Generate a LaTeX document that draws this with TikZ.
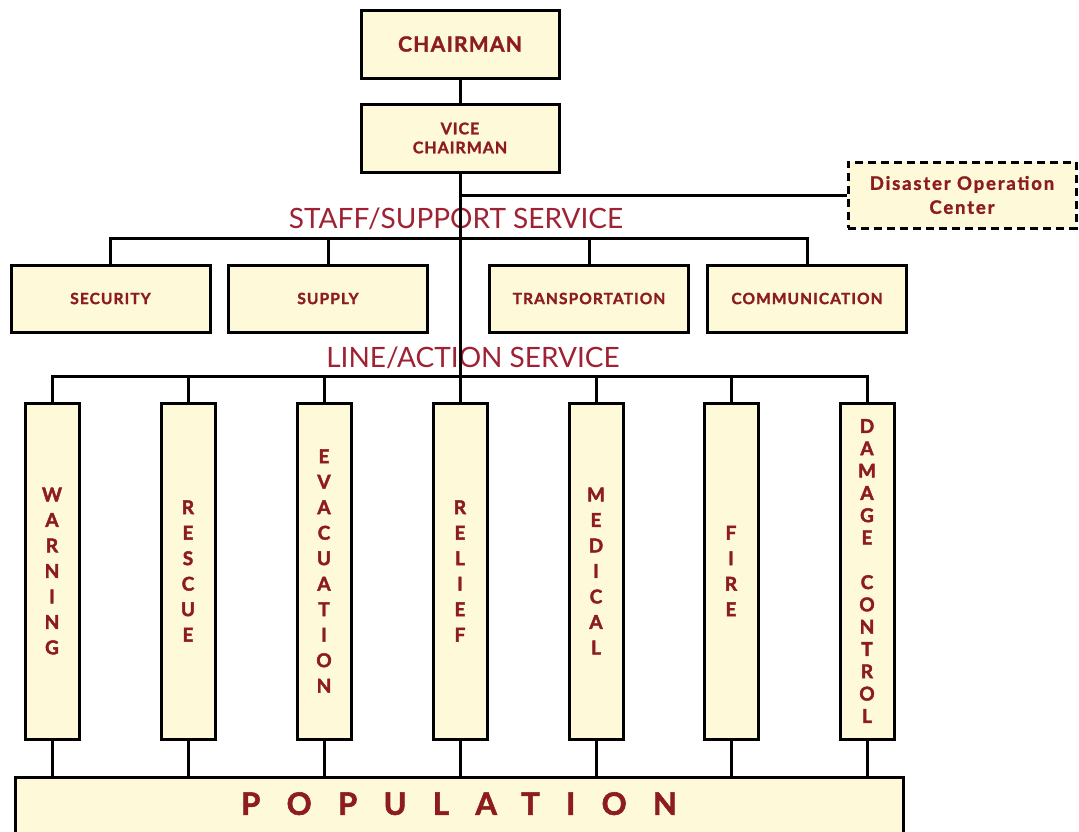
\documentclass[tikz,border=0pt]{standalone}
\usepackage{fontspec}
\setmainfont{Lato}
\newfontfamily\lblfont[LetterSpace=7, BoldFeatures={FakeBold=1.5}]{Lato}
\newfontfamily\chfont[LetterSpace=6, BoldFeatures={FakeBold=1.5}]{Lato}
\newfontfamily\docfont[LetterSpace=10, BoldFeatures={FakeBold=1.5}]{Lato}
\newfontfamily\barfont[BoldFeatures={FakeBold=2.2}]{Lato}
\newfontfamily\popfont[LetterSpace=85, BoldFeatures={FakeBold=1.8}]{Lato}
\definecolor{boxfill}{RGB}{253,249,217}
\definecolor{txtred}{RGB}{140,28,30}
\definecolor{headred}{RGB}{158,34,52}
\tikzset{
  box/.style={draw=black, line width=3pt, fill=boxfill, text=txtred, inner sep=0pt, align=center},
  topbox/.style={box, minimum width=198pt, minimum height=68pt},
  sbox/.style={box, minimum width=199pt, minimum height=67pt, font=\lblfont\bfseries\fontsize{15.5}{18}\selectfont},
  bar/.style={box, minimum width=54pt, minimum height=336pt, font=\barfont\bfseries\fontsize{19}{25.5}\selectfont},
  head/.style={text=headred, inner sep=0pt, font=\fontsize{28}{32}\selectfont},
  conn/.style={draw=black, line width=3pt}
}
\begin{document}
\begin{tikzpicture}[x=1pt,y=-1pt]
\clip (0,0) rectangle (1079,831);
\fill[white] (0,0) rectangle (1079,831);

\node[topbox, font=\chfont\bfseries\fontsize{21}{24}\selectfont] (ch) at (460,44) {CHAIRMAN};
\node[topbox, font=\chfont\bfseries\fontsize{16}{19}\selectfont] (vc) at (460,138) {VICE\\CHAIRMAN};
\node[box, dash pattern=on 8pt off 5pt, minimum width=228pt, minimum height=66pt,
      font=\docfont\bfseries\fontsize{18.5}{24}\selectfont] (doc) at (962,195) {Disaster Operation\\Center};

\node[head] (staff) at (456,219) {STAFF/SUPPORT SERVICE};
\node[head] (act) at (473,358) {LINE/ACTION SERVICE};

\node[sbox] (sec) at (110.5,298.5) {SECURITY};
\node[sbox] (sup) at (328,298.5) {SUPPLY};
\node[sbox] (tra) at (589,298.5) {TRANSPORTATION};
\node[sbox] (com) at (807,298.5) {COMMUNICATION};

\node[bar] (b1) at (52,571) {W\\A\\R\\N\\I\\N\\G};
\node[bar] (b2) at (188,571) {R\\E\\S\\C\\U\\E};
\node[bar] (b3) at (324,571) {E\\V\\A\\C\\U\\A\\T\\I\\O\\N};
\node[bar] (b4) at (460,571) {R\\E\\L\\I\\E\\F};
\node[bar] (b5) at (596,571) {M\\E\\D\\I\\C\\A\\L};
\node[bar] (b6) at (731,571) {F\\I\\R\\E};
\node[bar, font=\barfont\bfseries\fontsize{19}{22.3}\selectfont] (b7) at (867,571) {D\\A\\M\\A\\G\\E\\~\\C\\O\\N\\T\\R\\O\\L};

\node[box, minimum width=888pt, minimum height=63pt, text depth=10pt,
      font=\popfont\bfseries\fontsize{31}{34}\selectfont] (pop) at (459,808.5) {POPULATION};

\coordinate (sy) at (0,238);
\coordinate (ly) at (0,376);

\draw[conn] (ch) -- (vc);
\draw[conn] (vc.south) -- (b4.north);
\draw[conn] (vc.south |- doc.west) -- (doc.west);

\draw[conn] (sec.north) -- (sec.north |- sy) -- (com.north |- sy) -- (com.north);
\draw[conn] (sup.north) -- (sup.north |- sy);
\draw[conn] (tra.north) -- (tra.north |- sy);

\draw[conn] (b1.north) -- (b1.north |- ly) -- (b7.north |- ly) -- (b7.north);
\foreach \b in {b2,b3,b5,b6} \draw[conn] (\b.north) -- (\b.north |- ly);

\foreach \b in {b1,b2,b3,b4,b5,b6,b7} \draw[conn] (\b.south) -- (\b.south |- pop.north);
\end{tikzpicture}
\end{document}
